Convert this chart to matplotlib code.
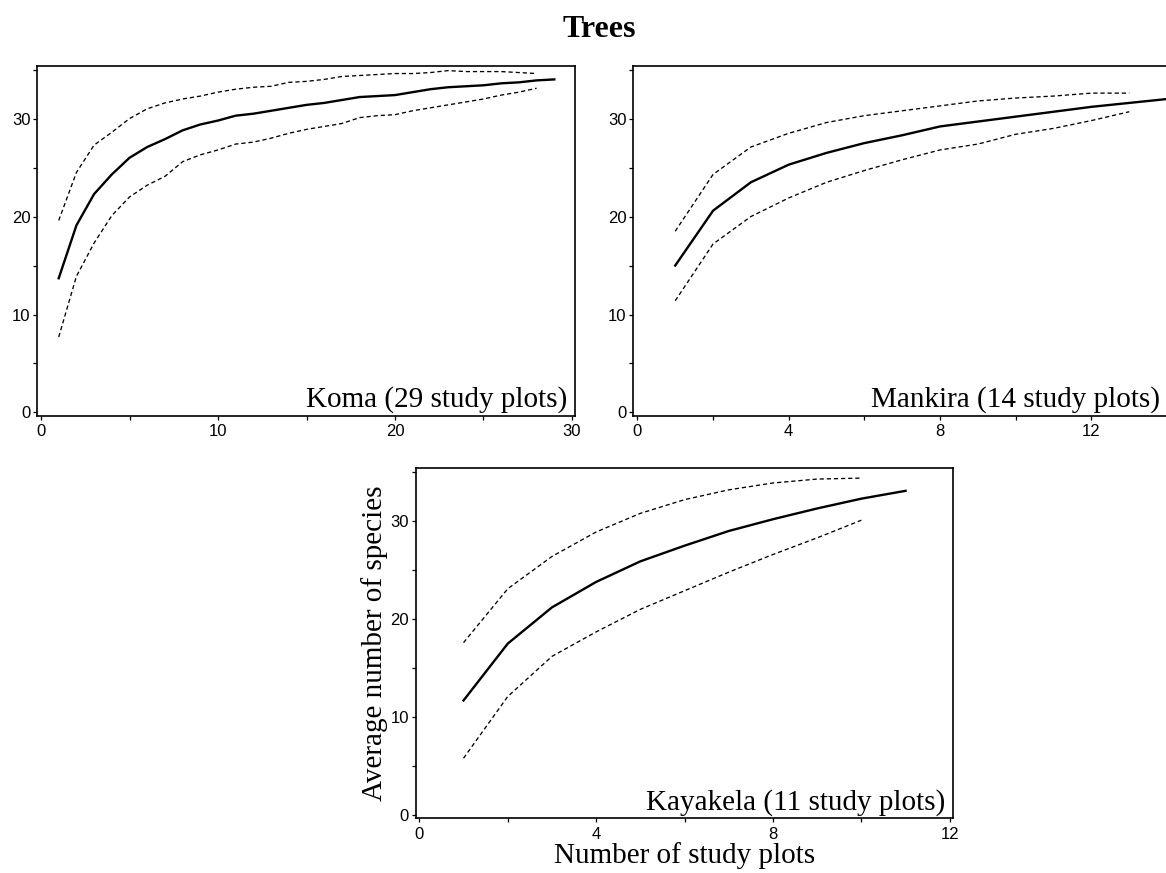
import matplotlib
matplotlib.use("Agg")
import matplotlib.pyplot as plt
from matplotlib.ticker import MultipleLocator

# species accumulation (mean and bounds)
koma_x = list(range(1, 30))
koma_mean = [13.7, 19.1, 22.3, 24.3, 26.0, 27.1, 27.9, 28.8, 29.4, 29.8,
             30.3, 30.5, 30.8, 31.1, 31.4, 31.6, 31.9, 32.2, 32.3, 32.4,
             32.7, 33.0, 33.2, 33.3, 33.4, 33.6, 33.7, 33.9, 34.0]
koma_bx = list(range(1, 29))
koma_upper = [19.6, 24.5, 27.3, 28.6, 30.0, 31.0, 31.6, 32.0, 32.3, 32.7,
              33.0, 33.2, 33.3, 33.7, 33.8, 34.0, 34.3, 34.4, 34.5, 34.6,
              34.6, 34.7, 34.9, 34.8, 34.8, 34.8, 34.7, 34.6]
koma_lower = [7.7, 13.9, 17.3, 20.1, 22.0, 23.2, 24.1, 25.6, 26.3, 26.8,
              27.4, 27.6, 28.0, 28.5, 28.9, 29.2, 29.5, 30.1, 30.3, 30.4,
              30.8, 31.1, 31.4, 31.7, 32.0, 32.4, 32.7, 33.1]

mank_x = list(range(1, 15))
mank_mean = [15.0, 20.6, 23.5, 25.3, 26.5, 27.5, 28.3, 29.2, 29.7, 30.2,
             30.7, 31.2, 31.6, 32.0]
mank_bx = list(range(1, 14))
mank_upper = [18.5, 24.3, 27.1, 28.5, 29.6, 30.3, 30.8, 31.3, 31.8, 32.1,
              32.3, 32.6, 32.6]
mank_lower = [11.4, 17.2, 20.0, 21.9, 23.5, 24.7, 25.8, 26.8, 27.4, 28.4,
              29.0, 29.8, 30.7]

kaya_x = list(range(1, 12))
kaya_mean = [11.7, 17.5, 21.2, 23.8, 25.9, 27.5, 29.0, 30.2, 31.3, 32.3, 33.1]
kaya_bx = list(range(1, 11))
kaya_upper = [17.6, 23.1, 26.4, 28.9, 30.8, 32.2, 33.2, 33.9, 34.3, 34.4]
kaya_lower = [5.8, 12.1, 16.2, 18.7, 21.0, 22.9, 24.8, 26.6, 28.3, 30.1]

W, H = 1166, 873
SERIF = "Liberation Serif"
SANS = "Liberation Sans"


def px_axes(fig, left, top, right, bottom):
    return fig.add_axes([left / W, 1 - bottom / H, (right - left) / W, (bottom - top) / H])


def panel(ax, x, mean, bx, upper, lower, xlim, major, minor, label):
    ax.plot(x, mean, color="black", lw=1.7)
    for b in (upper, lower):
        ax.plot(bx, b, color="black", lw=0.95, dashes=(3.2, 2.2))
    ax.set_xlim(*xlim)
    ax.set_ylim(-0.33, 35.4)
    ax.xaxis.set_major_locator(MultipleLocator(major))
    ax.xaxis.set_minor_locator(MultipleLocator(minor))
    ax.yaxis.set_major_locator(MultipleLocator(10))
    ax.yaxis.set_minor_locator(MultipleLocator(5))
    ax.tick_params(which="both", direction="out", length=3, width=0.9, labelsize=12, pad=2)
    ax.tick_params(axis="x", which="both", pad=3)
    for lab in ax.get_xticklabels() + ax.get_yticklabels():
        lab.set_family(SANS)
    for s in ax.spines.values():
        s.set_linewidth(1.2)
    ax.text(0.985, 0.008, label, transform=ax.transAxes, ha="right", va="bottom",
            fontsize=21, family=SERIF)


def main():
    fig = plt.figure(figsize=(W / 100, H / 100), dpi=100)

    ax1 = px_axes(fig, 37.3, 65.7, 575, 415.7)
    panel(ax1, koma_x, koma_mean, koma_bx, koma_upper, koma_lower,
          (-0.21, 30.17), 10, 5, "Koma (29 study plots)")

    ax2 = px_axes(fig, 633.3, 65.7, 1169, 415.7)
    panel(ax2, mank_x, mank_mean, mank_bx, mank_upper, mank_lower,
          (-0.108, 14.05), 4, 2, "Mankira (14 study plots)")
    ax2.texts[0].set_position((1 - 9 / (1169 - 633.3), 0.008))

    ax3 = px_axes(fig, 416, 468.3, 953.3, 818.3)
    panel(ax3, kaya_x, kaya_mean, kaya_bx, kaya_upper, kaya_lower,
          (-0.075, 12.08), 4, 2, "Kayakela (11 study plots)")
    ax3.set_ylabel("Average number of species", fontsize=21, family=SERIF, labelpad=2)
    ax3.set_xlabel("Number of study plots", fontsize=21, family=SERIF, labelpad=0)

    fig.text(599 / W, 1 - 37 / H, "Trees", ha="center", va="baseline",
             fontsize=23, fontweight="bold", family=SERIF)

    fig.savefig("out.png", dpi=100)


if __name__ == "__main__":
    main()
